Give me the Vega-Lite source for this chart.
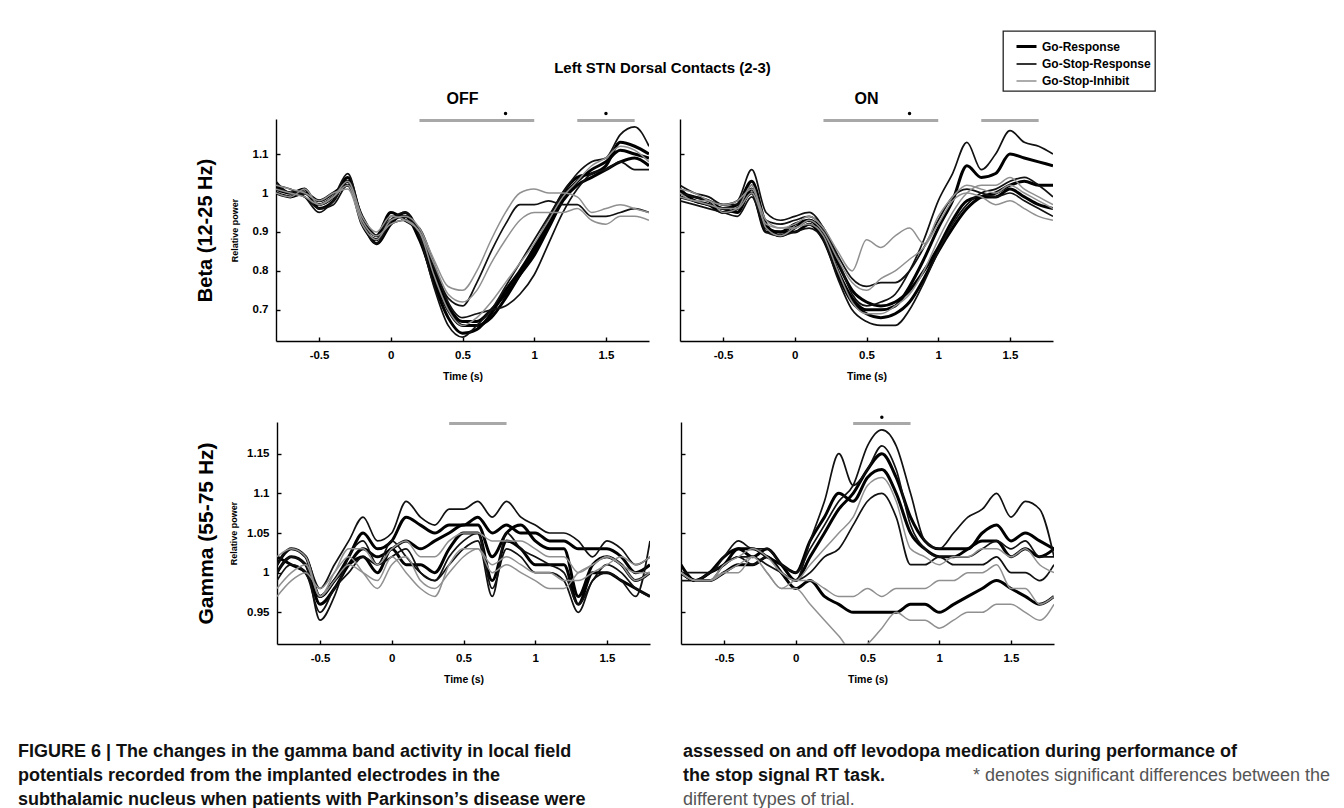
{
"$schema":"https://vega.github.io/schema/vega-lite/v6.json",
"background":"#ffffff",
"padding":{"left":18,"top":30,"right":0,"bottom":0},
"spacing":33,
"datasets":{
"bo":[
{"c":"R","l":1,"x":-0.8,"y":1.02},{"c":"R","l":1,"x":-0.7,"y":1.00},{"c":"R","l":1,"x":-0.6,"y":1.00},{"c":"R","l":1,"x":-0.5,"y":0.97},{"c":"R","l":1,"x":-0.4,"y":0.99},{"c":"R","l":1,"x":-0.3,"y":1.03},{"c":"R","l":1,"x":-0.2,"y":0.92},{"c":"R","l":1,"x":-0.1,"y":0.88},{"c":"R","l":1,"x":0,"y":0.93},{"c":"R","l":1,"x":0.1,"y":0.94},{"c":"R","l":1,"x":0.2,"y":0.88},{"c":"R","l":1,"x":0.3,"y":0.78},{"c":"R","l":1,"x":0.4,"y":0.70},{"c":"R","l":1,"x":0.5,"y":0.66},{"c":"R","l":1,"x":0.6,"y":0.66},{"c":"R","l":1,"x":0.7,"y":0.68},{"c":"R","l":1,"x":0.8,"y":0.73},{"c":"R","l":1,"x":0.9,"y":0.79},{"c":"R","l":1,"x":1,"y":0.85},{"c":"R","l":1,"x":1.1,"y":0.92},{"c":"R","l":1,"x":1.2,"y":0.99},{"c":"R","l":1,"x":1.3,"y":1.03},{"c":"R","l":1,"x":1.4,"y":1.06},{"c":"R","l":1,"x":1.5,"y":1.08},{"c":"R","l":1,"x":1.6,"y":1.11},{"c":"R","l":1,"x":1.7,"y":1.10},{"c":"R","l":1,"x":1.8,"y":1.09},
{"c":"R","l":2,"x":-0.8,"y":1.01},{"c":"R","l":2,"x":-0.7,"y":1.00},{"c":"R","l":2,"x":-0.6,"y":1.01},{"c":"R","l":2,"x":-0.5,"y":0.96},{"c":"R","l":2,"x":-0.4,"y":0.98},{"c":"R","l":2,"x":-0.3,"y":1.04},{"c":"R","l":2,"x":-0.2,"y":0.93},{"c":"R","l":2,"x":-0.1,"y":0.87},{"c":"R","l":2,"x":0,"y":0.92},{"c":"R","l":2,"x":0.1,"y":0.95},{"c":"R","l":2,"x":0.2,"y":0.89},{"c":"R","l":2,"x":0.3,"y":0.77},{"c":"R","l":2,"x":0.4,"y":0.68},{"c":"R","l":2,"x":0.5,"y":0.64},{"c":"R","l":2,"x":0.6,"y":0.65},{"c":"R","l":2,"x":0.7,"y":0.69},{"c":"R","l":2,"x":0.8,"y":0.75},{"c":"R","l":2,"x":0.9,"y":0.80},{"c":"R","l":2,"x":1,"y":0.86},{"c":"R","l":2,"x":1.1,"y":0.93},{"c":"R","l":2,"x":1.2,"y":1.00},{"c":"R","l":2,"x":1.3,"y":1.04},{"c":"R","l":2,"x":1.4,"y":1.05},{"c":"R","l":2,"x":1.5,"y":1.07},{"c":"R","l":2,"x":1.6,"y":1.13},{"c":"R","l":2,"x":1.7,"y":1.12},{"c":"R","l":2,"x":1.8,"y":1.10},
{"c":"R","l":3,"x":-0.8,"y":1.00},{"c":"R","l":3,"x":-0.7,"y":0.99},{"c":"R","l":3,"x":-0.6,"y":1.00},{"c":"R","l":3,"x":-0.5,"y":0.98},{"c":"R","l":3,"x":-0.4,"y":1.00},{"c":"R","l":3,"x":-0.3,"y":1.02},{"c":"R","l":3,"x":-0.2,"y":0.94},{"c":"R","l":3,"x":-0.1,"y":0.89},{"c":"R","l":3,"x":0,"y":0.95},{"c":"R","l":3,"x":0.1,"y":0.93},{"c":"R","l":3,"x":0.2,"y":0.90},{"c":"R","l":3,"x":0.3,"y":0.80},{"c":"R","l":3,"x":0.4,"y":0.71},{"c":"R","l":3,"x":0.5,"y":0.67},{"c":"R","l":3,"x":0.6,"y":0.67},{"c":"R","l":3,"x":0.7,"y":0.70},{"c":"R","l":3,"x":0.8,"y":0.74},{"c":"R","l":3,"x":0.9,"y":0.79},{"c":"R","l":3,"x":1,"y":0.84},{"c":"R","l":3,"x":1.1,"y":0.91},{"c":"R","l":3,"x":1.2,"y":0.98},{"c":"R","l":3,"x":1.3,"y":1.02},{"c":"R","l":3,"x":1.4,"y":1.04},{"c":"R","l":3,"x":1.5,"y":1.06},{"c":"R","l":3,"x":1.6,"y":1.08},{"c":"R","l":3,"x":1.7,"y":1.09},{"c":"R","l":3,"x":1.8,"y":1.07},
{"c":"S","l":4,"x":-0.8,"y":1.02},{"c":"S","l":4,"x":-0.7,"y":1.01},{"c":"S","l":4,"x":-0.6,"y":0.99},{"c":"S","l":4,"x":-0.5,"y":0.95},{"c":"S","l":4,"x":-0.4,"y":0.98},{"c":"S","l":4,"x":-0.3,"y":1.03},{"c":"S","l":4,"x":-0.2,"y":0.92},{"c":"S","l":4,"x":-0.1,"y":0.88},{"c":"S","l":4,"x":0,"y":0.94},{"c":"S","l":4,"x":0.1,"y":0.94},{"c":"S","l":4,"x":0.2,"y":0.90},{"c":"S","l":4,"x":0.3,"y":0.81},{"c":"S","l":4,"x":0.4,"y":0.73},{"c":"S","l":4,"x":0.5,"y":0.71},{"c":"S","l":4,"x":0.6,"y":0.77},{"c":"S","l":4,"x":0.7,"y":0.85},{"c":"S","l":4,"x":0.8,"y":0.92},{"c":"S","l":4,"x":0.9,"y":0.97},{"c":"S","l":4,"x":1,"y":0.97},{"c":"S","l":4,"x":1.1,"y":0.98},{"c":"S","l":4,"x":1.2,"y":0.97},{"c":"S","l":4,"x":1.3,"y":0.97},{"c":"S","l":4,"x":1.4,"y":0.94},{"c":"S","l":4,"x":1.5,"y":0.94},{"c":"S","l":4,"x":1.6,"y":0.95},{"c":"S","l":4,"x":1.7,"y":0.96},{"c":"S","l":4,"x":1.8,"y":0.95},
{"c":"S","l":5,"x":-0.8,"y":1.03},{"c":"S","l":5,"x":-0.7,"y":1.00},{"c":"S","l":5,"x":-0.6,"y":1.00},{"c":"S","l":5,"x":-0.5,"y":0.97},{"c":"S","l":5,"x":-0.4,"y":0.99},{"c":"S","l":5,"x":-0.3,"y":1.05},{"c":"S","l":5,"x":-0.2,"y":0.93},{"c":"S","l":5,"x":-0.1,"y":0.87},{"c":"S","l":5,"x":0,"y":0.93},{"c":"S","l":5,"x":0.1,"y":0.95},{"c":"S","l":5,"x":0.2,"y":0.89},{"c":"S","l":5,"x":0.3,"y":0.76},{"c":"S","l":5,"x":0.4,"y":0.66},{"c":"S","l":5,"x":0.5,"y":0.63},{"c":"S","l":5,"x":0.6,"y":0.66},{"c":"S","l":5,"x":0.7,"y":0.70},{"c":"S","l":5,"x":0.8,"y":0.76},{"c":"S","l":5,"x":0.9,"y":0.82},{"c":"S","l":5,"x":1,"y":0.88},{"c":"S","l":5,"x":1.1,"y":0.94},{"c":"S","l":5,"x":1.2,"y":1.00},{"c":"S","l":5,"x":1.3,"y":1.05},{"c":"S","l":5,"x":1.4,"y":1.08},{"c":"S","l":5,"x":1.5,"y":1.09},{"c":"S","l":5,"x":1.6,"y":1.15},{"c":"S","l":5,"x":1.7,"y":1.17},{"c":"S","l":5,"x":1.8,"y":1.12},
{"c":"S","l":6,"x":-0.8,"y":1.01},{"c":"S","l":6,"x":-0.7,"y":1.00},{"c":"S","l":6,"x":-0.6,"y":0.99},{"c":"S","l":6,"x":-0.5,"y":0.96},{"c":"S","l":6,"x":-0.4,"y":0.97},{"c":"S","l":6,"x":-0.3,"y":1.02},{"c":"S","l":6,"x":-0.2,"y":0.93},{"c":"S","l":6,"x":-0.1,"y":0.89},{"c":"S","l":6,"x":0,"y":0.92},{"c":"S","l":6,"x":0.1,"y":0.93},{"c":"S","l":6,"x":0.2,"y":0.91},{"c":"S","l":6,"x":0.3,"y":0.82},{"c":"S","l":6,"x":0.4,"y":0.72},{"c":"S","l":6,"x":0.5,"y":0.68},{"c":"S","l":6,"x":0.6,"y":0.69},{"c":"S","l":6,"x":0.7,"y":0.70},{"c":"S","l":6,"x":0.8,"y":0.71},{"c":"S","l":6,"x":0.9,"y":0.74},{"c":"S","l":6,"x":1,"y":0.79},{"c":"S","l":6,"x":1.1,"y":0.87},{"c":"S","l":6,"x":1.2,"y":0.95},{"c":"S","l":6,"x":1.3,"y":1.01},{"c":"S","l":6,"x":1.4,"y":1.05},{"c":"S","l":6,"x":1.5,"y":1.06},{"c":"S","l":6,"x":1.6,"y":1.08},{"c":"S","l":6,"x":1.7,"y":1.06},{"c":"S","l":6,"x":1.8,"y":1.06},
{"c":"I","l":7,"x":-0.8,"y":1.02},{"c":"I","l":7,"x":-0.7,"y":1.01},{"c":"I","l":7,"x":-0.6,"y":1.00},{"c":"I","l":7,"x":-0.5,"y":0.98},{"c":"I","l":7,"x":-0.4,"y":1.00},{"c":"I","l":7,"x":-0.3,"y":1.01},{"c":"I","l":7,"x":-0.2,"y":0.92},{"c":"I","l":7,"x":-0.1,"y":0.88},{"c":"I","l":7,"x":0,"y":0.93},{"c":"I","l":7,"x":0.1,"y":0.94},{"c":"I","l":7,"x":0.2,"y":0.91},{"c":"I","l":7,"x":0.3,"y":0.83},{"c":"I","l":7,"x":0.4,"y":0.76},{"c":"I","l":7,"x":0.5,"y":0.75},{"c":"I","l":7,"x":0.6,"y":0.80},{"c":"I","l":7,"x":0.7,"y":0.88},{"c":"I","l":7,"x":0.8,"y":0.95},{"c":"I","l":7,"x":0.9,"y":1.00},{"c":"I","l":7,"x":1,"y":1.01},{"c":"I","l":7,"x":1.1,"y":1.00},{"c":"I","l":7,"x":1.2,"y":1.00},{"c":"I","l":7,"x":1.3,"y":0.99},{"c":"I","l":7,"x":1.4,"y":0.95},{"c":"I","l":7,"x":1.5,"y":0.96},{"c":"I","l":7,"x":1.6,"y":0.97},{"c":"I","l":7,"x":1.7,"y":0.96},{"c":"I","l":7,"x":1.8,"y":0.95},
{"c":"I","l":8,"x":-0.8,"y":1.01},{"c":"I","l":8,"x":-0.7,"y":1.00},{"c":"I","l":8,"x":-0.6,"y":0.99},{"c":"I","l":8,"x":-0.5,"y":0.97},{"c":"I","l":8,"x":-0.4,"y":0.99},{"c":"I","l":8,"x":-0.3,"y":1.02},{"c":"I","l":8,"x":-0.2,"y":0.93},{"c":"I","l":8,"x":-0.1,"y":0.89},{"c":"I","l":8,"x":0,"y":0.92},{"c":"I","l":8,"x":0.1,"y":0.93},{"c":"I","l":8,"x":0.2,"y":0.90},{"c":"I","l":8,"x":0.3,"y":0.82},{"c":"I","l":8,"x":0.4,"y":0.74},{"c":"I","l":8,"x":0.5,"y":0.72},{"c":"I","l":8,"x":0.6,"y":0.75},{"c":"I","l":8,"x":0.7,"y":0.82},{"c":"I","l":8,"x":0.8,"y":0.88},{"c":"I","l":8,"x":0.9,"y":0.93},{"c":"I","l":8,"x":1,"y":0.95},{"c":"I","l":8,"x":1.1,"y":0.95},{"c":"I","l":8,"x":1.2,"y":0.95},{"c":"I","l":8,"x":1.3,"y":0.96},{"c":"I","l":8,"x":1.4,"y":0.93},{"c":"I","l":8,"x":1.5,"y":0.92},{"c":"I","l":8,"x":1.6,"y":0.94},{"c":"I","l":8,"x":1.7,"y":0.94},{"c":"I","l":8,"x":1.8,"y":0.93},
{"c":"I","l":9,"x":-0.8,"y":1.00},{"c":"I","l":9,"x":-0.7,"y":0.99},{"c":"I","l":9,"x":-0.6,"y":1.01},{"c":"I","l":9,"x":-0.5,"y":0.97},{"c":"I","l":9,"x":-0.4,"y":0.99},{"c":"I","l":9,"x":-0.3,"y":1.03},{"c":"I","l":9,"x":-0.2,"y":0.94},{"c":"I","l":9,"x":-0.1,"y":0.90},{"c":"I","l":9,"x":0,"y":0.94},{"c":"I","l":9,"x":0.1,"y":0.93},{"c":"I","l":9,"x":0.2,"y":0.90},{"c":"I","l":9,"x":0.3,"y":0.79},{"c":"I","l":9,"x":0.4,"y":0.70},{"c":"I","l":9,"x":0.5,"y":0.66},{"c":"I","l":9,"x":0.6,"y":0.68},{"c":"I","l":9,"x":0.7,"y":0.72},{"c":"I","l":9,"x":0.8,"y":0.77},{"c":"I","l":9,"x":0.9,"y":0.82},{"c":"I","l":9,"x":1,"y":0.87},{"c":"I","l":9,"x":1.1,"y":0.93},{"c":"I","l":9,"x":1.2,"y":0.99},{"c":"I","l":9,"x":1.3,"y":1.03},{"c":"I","l":9,"x":1.4,"y":1.07},{"c":"I","l":9,"x":1.5,"y":1.09},{"c":"I","l":9,"x":1.6,"y":1.12},{"c":"I","l":9,"x":1.7,"y":1.11},{"c":"I","l":9,"x":1.8,"y":1.08}
],
"bn":[
{"c":"R","l":1,"x":-0.8,"y":1.00},{"c":"R","l":1,"x":-0.7,"y":0.99},{"c":"R","l":1,"x":-0.6,"y":0.98},{"c":"R","l":1,"x":-0.5,"y":0.96},{"c":"R","l":1,"x":-0.4,"y":0.97},{"c":"R","l":1,"x":-0.3,"y":1.03},{"c":"R","l":1,"x":-0.2,"y":0.92},{"c":"R","l":1,"x":-0.1,"y":0.89},{"c":"R","l":1,"x":0,"y":0.91},{"c":"R","l":1,"x":0.1,"y":0.93},{"c":"R","l":1,"x":0.2,"y":0.89},{"c":"R","l":1,"x":0.3,"y":0.80},{"c":"R","l":1,"x":0.4,"y":0.73},{"c":"R","l":1,"x":0.5,"y":0.70},{"c":"R","l":1,"x":0.6,"y":0.70},{"c":"R","l":1,"x":0.7,"y":0.71},{"c":"R","l":1,"x":0.8,"y":0.76},{"c":"R","l":1,"x":0.9,"y":0.83},{"c":"R","l":1,"x":1,"y":0.91},{"c":"R","l":1,"x":1.1,"y":0.98},{"c":"R","l":1,"x":1.2,"y":1.07},{"c":"R","l":1,"x":1.3,"y":1.04},{"c":"R","l":1,"x":1.4,"y":1.05},{"c":"R","l":1,"x":1.5,"y":1.10},{"c":"R","l":1,"x":1.6,"y":1.09},{"c":"R","l":1,"x":1.7,"y":1.08},{"c":"R","l":1,"x":1.8,"y":1.07},
{"c":"R","l":2,"x":-0.8,"y":1.01},{"c":"R","l":2,"x":-0.7,"y":0.98},{"c":"R","l":2,"x":-0.6,"y":0.97},{"c":"R","l":2,"x":-0.5,"y":0.95},{"c":"R","l":2,"x":-0.4,"y":0.96},{"c":"R","l":2,"x":-0.3,"y":1.00},{"c":"R","l":2,"x":-0.2,"y":0.90},{"c":"R","l":2,"x":-0.1,"y":0.90},{"c":"R","l":2,"x":0,"y":0.90},{"c":"R","l":2,"x":0.1,"y":0.92},{"c":"R","l":2,"x":0.2,"y":0.88},{"c":"R","l":2,"x":0.3,"y":0.79},{"c":"R","l":2,"x":0.4,"y":0.72},{"c":"R","l":2,"x":0.5,"y":0.69},{"c":"R","l":2,"x":0.6,"y":0.68},{"c":"R","l":2,"x":0.7,"y":0.69},{"c":"R","l":2,"x":0.8,"y":0.72},{"c":"R","l":2,"x":0.9,"y":0.78},{"c":"R","l":2,"x":1,"y":0.85},{"c":"R","l":2,"x":1.1,"y":0.91},{"c":"R","l":2,"x":1.2,"y":0.96},{"c":"R","l":2,"x":1.3,"y":0.99},{"c":"R","l":2,"x":1.4,"y":1.00},{"c":"R","l":2,"x":1.5,"y":1.02},{"c":"R","l":2,"x":1.6,"y":1.03},{"c":"R","l":2,"x":1.7,"y":1.02},{"c":"R","l":2,"x":1.8,"y":1.02},
{"c":"R","l":3,"x":-0.8,"y":0.99},{"c":"R","l":3,"x":-0.7,"y":0.98},{"c":"R","l":3,"x":-0.6,"y":0.97},{"c":"R","l":3,"x":-0.5,"y":0.96},{"c":"R","l":3,"x":-0.4,"y":0.95},{"c":"R","l":3,"x":-0.3,"y":1.01},{"c":"R","l":3,"x":-0.2,"y":0.91},{"c":"R","l":3,"x":-0.1,"y":0.90},{"c":"R","l":3,"x":0,"y":0.92},{"c":"R","l":3,"x":0.1,"y":0.93},{"c":"R","l":3,"x":0.2,"y":0.90},{"c":"R","l":3,"x":0.3,"y":0.82},{"c":"R","l":3,"x":0.4,"y":0.75},{"c":"R","l":3,"x":0.5,"y":0.72},{"c":"R","l":3,"x":0.6,"y":0.71},{"c":"R","l":3,"x":0.7,"y":0.72},{"c":"R","l":3,"x":0.8,"y":0.75},{"c":"R","l":3,"x":0.9,"y":0.80},{"c":"R","l":3,"x":1,"y":0.86},{"c":"R","l":3,"x":1.1,"y":0.93},{"c":"R","l":3,"x":1.2,"y":0.98},{"c":"R","l":3,"x":1.3,"y":0.99},{"c":"R","l":3,"x":1.4,"y":0.99},{"c":"R","l":3,"x":1.5,"y":1.01},{"c":"R","l":3,"x":1.6,"y":0.99},{"c":"R","l":3,"x":1.7,"y":0.97},{"c":"R","l":3,"x":1.8,"y":0.96},
{"c":"S","l":4,"x":-0.8,"y":1.00},{"c":"S","l":4,"x":-0.7,"y":0.99},{"c":"S","l":4,"x":-0.6,"y":0.98},{"c":"S","l":4,"x":-0.5,"y":0.97},{"c":"S","l":4,"x":-0.4,"y":0.98},{"c":"S","l":4,"x":-0.3,"y":1.06},{"c":"S","l":4,"x":-0.2,"y":0.95},{"c":"S","l":4,"x":-0.1,"y":0.93},{"c":"S","l":4,"x":0,"y":0.94},{"c":"S","l":4,"x":0.1,"y":0.95},{"c":"S","l":4,"x":0.2,"y":0.91},{"c":"S","l":4,"x":0.3,"y":0.83},{"c":"S","l":4,"x":0.4,"y":0.74},{"c":"S","l":4,"x":0.5,"y":0.71},{"c":"S","l":4,"x":0.6,"y":0.72},{"c":"S","l":4,"x":0.7,"y":0.74},{"c":"S","l":4,"x":0.8,"y":0.80},{"c":"S","l":4,"x":0.9,"y":0.88},{"c":"S","l":4,"x":1,"y":0.98},{"c":"S","l":4,"x":1.1,"y":1.05},{"c":"S","l":4,"x":1.2,"y":1.13},{"c":"S","l":4,"x":1.3,"y":1.06},{"c":"S","l":4,"x":1.4,"y":1.10},{"c":"S","l":4,"x":1.5,"y":1.16},{"c":"S","l":4,"x":1.6,"y":1.13},{"c":"S","l":4,"x":1.7,"y":1.12},{"c":"S","l":4,"x":1.8,"y":1.10},
{"c":"S","l":5,"x":-0.8,"y":1.02},{"c":"S","l":5,"x":-0.7,"y":1.00},{"c":"S","l":5,"x":-0.6,"y":0.99},{"c":"S","l":5,"x":-0.5,"y":0.97},{"c":"S","l":5,"x":-0.4,"y":0.97},{"c":"S","l":5,"x":-0.3,"y":1.02},{"c":"S","l":5,"x":-0.2,"y":0.93},{"c":"S","l":5,"x":-0.1,"y":0.92},{"c":"S","l":5,"x":0,"y":0.93},{"c":"S","l":5,"x":0.1,"y":0.94},{"c":"S","l":5,"x":0.2,"y":0.91},{"c":"S","l":5,"x":0.3,"y":0.84},{"c":"S","l":5,"x":0.4,"y":0.78},{"c":"S","l":5,"x":0.5,"y":0.76},{"c":"S","l":5,"x":0.6,"y":0.77},{"c":"S","l":5,"x":0.7,"y":0.77},{"c":"S","l":5,"x":0.8,"y":0.80},{"c":"S","l":5,"x":0.9,"y":0.86},{"c":"S","l":5,"x":1,"y":0.93},{"c":"S","l":5,"x":1.1,"y":0.99},{"c":"S","l":5,"x":1.2,"y":1.01},{"c":"S","l":5,"x":1.3,"y":1.00},{"c":"S","l":5,"x":1.4,"y":0.99},{"c":"S","l":5,"x":1.5,"y":1.00},{"c":"S","l":5,"x":1.6,"y":0.98},{"c":"S","l":5,"x":1.7,"y":0.96},{"c":"S","l":5,"x":1.8,"y":0.94},
{"c":"S","l":6,"x":-0.8,"y":0.98},{"c":"S","l":6,"x":-0.7,"y":0.97},{"c":"S","l":6,"x":-0.6,"y":0.96},{"c":"S","l":6,"x":-0.5,"y":0.95},{"c":"S","l":6,"x":-0.4,"y":0.94},{"c":"S","l":6,"x":-0.3,"y":0.99},{"c":"S","l":6,"x":-0.2,"y":0.90},{"c":"S","l":6,"x":-0.1,"y":0.89},{"c":"S","l":6,"x":0,"y":0.90},{"c":"S","l":6,"x":0.1,"y":0.91},{"c":"S","l":6,"x":0.2,"y":0.88},{"c":"S","l":6,"x":0.3,"y":0.78},{"c":"S","l":6,"x":0.4,"y":0.70},{"c":"S","l":6,"x":0.5,"y":0.67},{"c":"S","l":6,"x":0.6,"y":0.66},{"c":"S","l":6,"x":0.7,"y":0.66},{"c":"S","l":6,"x":0.8,"y":0.70},{"c":"S","l":6,"x":0.9,"y":0.77},{"c":"S","l":6,"x":1,"y":0.85},{"c":"S","l":6,"x":1.1,"y":0.92},{"c":"S","l":6,"x":1.2,"y":0.97},{"c":"S","l":6,"x":1.3,"y":1.00},{"c":"S","l":6,"x":1.4,"y":1.01},{"c":"S","l":6,"x":1.5,"y":1.03},{"c":"S","l":6,"x":1.6,"y":1.04},{"c":"S","l":6,"x":1.7,"y":1.02},{"c":"S","l":6,"x":1.8,"y":0.99},
{"c":"I","l":7,"x":-0.8,"y":1.01},{"c":"I","l":7,"x":-0.7,"y":1.00},{"c":"I","l":7,"x":-0.6,"y":0.98},{"c":"I","l":7,"x":-0.5,"y":0.97},{"c":"I","l":7,"x":-0.4,"y":0.98},{"c":"I","l":7,"x":-0.3,"y":1.01},{"c":"I","l":7,"x":-0.2,"y":0.93},{"c":"I","l":7,"x":-0.1,"y":0.91},{"c":"I","l":7,"x":0,"y":0.92},{"c":"I","l":7,"x":0.1,"y":0.94},{"c":"I","l":7,"x":0.2,"y":0.91},{"c":"I","l":7,"x":0.3,"y":0.85},{"c":"I","l":7,"x":0.4,"y":0.80},{"c":"I","l":7,"x":0.5,"y":0.88},{"c":"I","l":7,"x":0.6,"y":0.86},{"c":"I","l":7,"x":0.7,"y":0.89},{"c":"I","l":7,"x":0.8,"y":0.91},{"c":"I","l":7,"x":0.9,"y":0.87},{"c":"I","l":7,"x":1,"y":0.94},{"c":"I","l":7,"x":1.1,"y":0.99},{"c":"I","l":7,"x":1.2,"y":1.02},{"c":"I","l":7,"x":1.3,"y":1.01},{"c":"I","l":7,"x":1.4,"y":1.00},{"c":"I","l":7,"x":1.5,"y":1.02},{"c":"I","l":7,"x":1.6,"y":1.00},{"c":"I","l":7,"x":1.7,"y":0.98},{"c":"I","l":7,"x":1.8,"y":0.96},
{"c":"I","l":8,"x":-0.8,"y":0.99},{"c":"I","l":8,"x":-0.7,"y":0.98},{"c":"I","l":8,"x":-0.6,"y":0.97},{"c":"I","l":8,"x":-0.5,"y":0.96},{"c":"I","l":8,"x":-0.4,"y":0.96},{"c":"I","l":8,"x":-0.3,"y":1.00},{"c":"I","l":8,"x":-0.2,"y":0.92},{"c":"I","l":8,"x":-0.1,"y":0.91},{"c":"I","l":8,"x":0,"y":0.91},{"c":"I","l":8,"x":0.1,"y":0.93},{"c":"I","l":8,"x":0.2,"y":0.90},{"c":"I","l":8,"x":0.3,"y":0.83},{"c":"I","l":8,"x":0.4,"y":0.77},{"c":"I","l":8,"x":0.5,"y":0.75},{"c":"I","l":8,"x":0.6,"y":0.78},{"c":"I","l":8,"x":0.7,"y":0.80},{"c":"I","l":8,"x":0.8,"y":0.83},{"c":"I","l":8,"x":0.9,"y":0.86},{"c":"I","l":8,"x":1,"y":0.92},{"c":"I","l":8,"x":1.1,"y":0.98},{"c":"I","l":8,"x":1.2,"y":1.00},{"c":"I","l":8,"x":1.3,"y":0.99},{"c":"I","l":8,"x":1.4,"y":0.97},{"c":"I","l":8,"x":1.5,"y":0.98},{"c":"I","l":8,"x":1.6,"y":0.96},{"c":"I","l":8,"x":1.7,"y":0.94},{"c":"I","l":8,"x":1.8,"y":0.93},
{"c":"I","l":9,"x":-0.8,"y":1.00},{"c":"I","l":9,"x":-0.7,"y":0.98},{"c":"I","l":9,"x":-0.6,"y":0.98},{"c":"I","l":9,"x":-0.5,"y":0.95},{"c":"I","l":9,"x":-0.4,"y":0.96},{"c":"I","l":9,"x":-0.3,"y":1.02},{"c":"I","l":9,"x":-0.2,"y":0.91},{"c":"I","l":9,"x":-0.1,"y":0.89},{"c":"I","l":9,"x":0,"y":0.91},{"c":"I","l":9,"x":0.1,"y":0.92},{"c":"I","l":9,"x":0.2,"y":0.89},{"c":"I","l":9,"x":0.3,"y":0.80},{"c":"I","l":9,"x":0.4,"y":0.72},{"c":"I","l":9,"x":0.5,"y":0.69},{"c":"I","l":9,"x":0.6,"y":0.69},{"c":"I","l":9,"x":0.7,"y":0.71},{"c":"I","l":9,"x":0.8,"y":0.74},{"c":"I","l":9,"x":0.9,"y":0.80},{"c":"I","l":9,"x":1,"y":0.88},{"c":"I","l":9,"x":1.1,"y":0.95},{"c":"I","l":9,"x":1.2,"y":1.00},{"c":"I","l":9,"x":1.3,"y":1.02},{"c":"I","l":9,"x":1.4,"y":1.02},{"c":"I","l":9,"x":1.5,"y":1.04},{"c":"I","l":9,"x":1.6,"y":1.01},{"c":"I","l":9,"x":1.7,"y":0.99},{"c":"I","l":9,"x":1.8,"y":0.97}
],
"go":[
{"c":"R","l":1,"x":-0.8,"y":1.01},{"c":"R","l":1,"x":-0.7,"y":1.03},{"c":"R","l":1,"x":-0.6,"y":1.02},{"c":"R","l":1,"x":-0.5,"y":0.97},{"c":"R","l":1,"x":-0.4,"y":0.99},{"c":"R","l":1,"x":-0.3,"y":1.02},{"c":"R","l":1,"x":-0.2,"y":1.05},{"c":"R","l":1,"x":-0.1,"y":1.03},{"c":"R","l":1,"x":0,"y":1.04},{"c":"R","l":1,"x":0.1,"y":1.07},{"c":"R","l":1,"x":0.2,"y":1.06},{"c":"R","l":1,"x":0.3,"y":1.05},{"c":"R","l":1,"x":0.4,"y":1.06},{"c":"R","l":1,"x":0.5,"y":1.06},{"c":"R","l":1,"x":0.6,"y":1.07},{"c":"R","l":1,"x":0.7,"y":1.05},{"c":"R","l":1,"x":0.8,"y":1.06},{"c":"R","l":1,"x":0.9,"y":1.05},{"c":"R","l":1,"x":1,"y":1.05},{"c":"R","l":1,"x":1.1,"y":1.04},{"c":"R","l":1,"x":1.2,"y":1.04},{"c":"R","l":1,"x":1.3,"y":1.03},{"c":"R","l":1,"x":1.4,"y":1.03},{"c":"R","l":1,"x":1.5,"y":1.03},{"c":"R","l":1,"x":1.6,"y":1.02},{"c":"R","l":1,"x":1.7,"y":1.00},{"c":"R","l":1,"x":1.8,"y":1.01},
{"c":"R","l":2,"x":-0.8,"y":1.00},{"c":"R","l":2,"x":-0.7,"y":1.02},{"c":"R","l":2,"x":-0.6,"y":1.01},{"c":"R","l":2,"x":-0.5,"y":0.96},{"c":"R","l":2,"x":-0.4,"y":0.98},{"c":"R","l":2,"x":-0.3,"y":1.01},{"c":"R","l":2,"x":-0.2,"y":1.03},{"c":"R","l":2,"x":-0.1,"y":1.02},{"c":"R","l":2,"x":0,"y":1.03},{"c":"R","l":2,"x":0.1,"y":1.04},{"c":"R","l":2,"x":0.2,"y":1.03},{"c":"R","l":2,"x":0.3,"y":1.04},{"c":"R","l":2,"x":0.4,"y":1.05},{"c":"R","l":2,"x":0.5,"y":1.06},{"c":"R","l":2,"x":0.6,"y":1.06},{"c":"R","l":2,"x":0.7,"y":1.02},{"c":"R","l":2,"x":0.8,"y":1.05},{"c":"R","l":2,"x":0.9,"y":1.06},{"c":"R","l":2,"x":1,"y":1.04},{"c":"R","l":2,"x":1.1,"y":1.03},{"c":"R","l":2,"x":1.2,"y":1.03},{"c":"R","l":2,"x":1.3,"y":0.97},{"c":"R","l":2,"x":1.4,"y":1.01},{"c":"R","l":2,"x":1.5,"y":1.02},{"c":"R","l":2,"x":1.6,"y":1.01},{"c":"R","l":2,"x":1.7,"y":0.99},{"c":"R","l":2,"x":1.8,"y":1.00},
{"c":"R","l":3,"x":-0.8,"y":1.02},{"c":"R","l":3,"x":-0.7,"y":1.01},{"c":"R","l":3,"x":-0.6,"y":1.00},{"c":"R","l":3,"x":-0.5,"y":0.97},{"c":"R","l":3,"x":-0.4,"y":0.99},{"c":"R","l":3,"x":-0.3,"y":1.01},{"c":"R","l":3,"x":-0.2,"y":1.02},{"c":"R","l":3,"x":-0.1,"y":1.00},{"c":"R","l":3,"x":0,"y":1.03},{"c":"R","l":3,"x":0.1,"y":1.01},{"c":"R","l":3,"x":0.2,"y":1.01},{"c":"R","l":3,"x":0.3,"y":1.00},{"c":"R","l":3,"x":0.4,"y":1.03},{"c":"R","l":3,"x":0.5,"y":1.05},{"c":"R","l":3,"x":0.6,"y":1.05},{"c":"R","l":3,"x":0.7,"y":0.99},{"c":"R","l":3,"x":0.8,"y":1.04},{"c":"R","l":3,"x":0.9,"y":1.03},{"c":"R","l":3,"x":1,"y":1.01},{"c":"R","l":3,"x":1.1,"y":1.01},{"c":"R","l":3,"x":1.2,"y":1.01},{"c":"R","l":3,"x":1.3,"y":0.96},{"c":"R","l":3,"x":1.4,"y":1.00},{"c":"R","l":3,"x":1.5,"y":1.00},{"c":"R","l":3,"x":1.6,"y":0.99},{"c":"R","l":3,"x":1.7,"y":0.98},{"c":"R","l":3,"x":1.8,"y":0.97},
{"c":"S","l":4,"x":-0.8,"y":1.01},{"c":"S","l":4,"x":-0.7,"y":1.03},{"c":"S","l":4,"x":-0.6,"y":1.02},{"c":"S","l":4,"x":-0.5,"y":0.98},{"c":"S","l":4,"x":-0.4,"y":1.01},{"c":"S","l":4,"x":-0.3,"y":1.04},{"c":"S","l":4,"x":-0.2,"y":1.07},{"c":"S","l":4,"x":-0.1,"y":1.04},{"c":"S","l":4,"x":0,"y":1.05},{"c":"S","l":4,"x":0.1,"y":1.09},{"c":"S","l":4,"x":0.2,"y":1.07},{"c":"S","l":4,"x":0.3,"y":1.06},{"c":"S","l":4,"x":0.4,"y":1.08},{"c":"S","l":4,"x":0.5,"y":1.08},{"c":"S","l":4,"x":0.6,"y":1.09},{"c":"S","l":4,"x":0.7,"y":1.07},{"c":"S","l":4,"x":0.8,"y":1.09},{"c":"S","l":4,"x":0.9,"y":1.07},{"c":"S","l":4,"x":1,"y":1.06},{"c":"S","l":4,"x":1.1,"y":1.05},{"c":"S","l":4,"x":1.2,"y":1.05},{"c":"S","l":4,"x":1.3,"y":1.04},{"c":"S","l":4,"x":1.4,"y":1.02},{"c":"S","l":4,"x":1.5,"y":1.04},{"c":"S","l":4,"x":1.6,"y":1.03},{"c":"S","l":4,"x":1.7,"y":1.01},{"c":"S","l":4,"x":1.8,"y":1.02},
{"c":"S","l":5,"x":-0.8,"y":0.99},{"c":"S","l":5,"x":-0.7,"y":1.01},{"c":"S","l":5,"x":-0.6,"y":1.00},{"c":"S","l":5,"x":-0.5,"y":0.95},{"c":"S","l":5,"x":-0.4,"y":0.98},{"c":"S","l":5,"x":-0.3,"y":1.00},{"c":"S","l":5,"x":-0.2,"y":1.02},{"c":"S","l":5,"x":-0.1,"y":1.01},{"c":"S","l":5,"x":0,"y":1.02},{"c":"S","l":5,"x":0.1,"y":1.03},{"c":"S","l":5,"x":0.2,"y":1.00},{"c":"S","l":5,"x":0.3,"y":0.99},{"c":"S","l":5,"x":0.4,"y":1.02},{"c":"S","l":5,"x":0.5,"y":1.04},{"c":"S","l":5,"x":0.6,"y":1.05},{"c":"S","l":5,"x":0.7,"y":0.98},{"c":"S","l":5,"x":0.8,"y":1.03},{"c":"S","l":5,"x":0.9,"y":1.02},{"c":"S","l":5,"x":1,"y":1.00},{"c":"S","l":5,"x":1.1,"y":1.00},{"c":"S","l":5,"x":1.2,"y":0.99},{"c":"S","l":5,"x":1.3,"y":0.95},{"c":"S","l":5,"x":1.4,"y":0.99},{"c":"S","l":5,"x":1.5,"y":1.00},{"c":"S","l":5,"x":1.6,"y":0.99},{"c":"S","l":5,"x":1.7,"y":0.97},{"c":"S","l":5,"x":1.8,"y":1.04},
{"c":"S","l":6,"x":-0.8,"y":1.00},{"c":"S","l":6,"x":-0.7,"y":1.02},{"c":"S","l":6,"x":-0.6,"y":1.01},{"c":"S","l":6,"x":-0.5,"y":0.94},{"c":"S","l":6,"x":-0.4,"y":0.97},{"c":"S","l":6,"x":-0.3,"y":1.02},{"c":"S","l":6,"x":-0.2,"y":1.04},{"c":"S","l":6,"x":-0.1,"y":1.01},{"c":"S","l":6,"x":0,"y":1.04},{"c":"S","l":6,"x":0.1,"y":1.02},{"c":"S","l":6,"x":0.2,"y":1.00},{"c":"S","l":6,"x":0.3,"y":0.99},{"c":"S","l":6,"x":0.4,"y":1.01},{"c":"S","l":6,"x":0.5,"y":1.03},{"c":"S","l":6,"x":0.6,"y":1.04},{"c":"S","l":6,"x":0.7,"y":0.97},{"c":"S","l":6,"x":0.8,"y":1.05},{"c":"S","l":6,"x":0.9,"y":1.03},{"c":"S","l":6,"x":1,"y":1.02},{"c":"S","l":6,"x":1.1,"y":1.01},{"c":"S","l":6,"x":1.2,"y":1.00},{"c":"S","l":6,"x":1.3,"y":0.96},{"c":"S","l":6,"x":1.4,"y":0.99},{"c":"S","l":6,"x":1.5,"y":1.01},{"c":"S","l":6,"x":1.6,"y":1.00},{"c":"S","l":6,"x":1.7,"y":0.98},{"c":"S","l":6,"x":1.8,"y":0.97},
{"c":"I","l":7,"x":-0.8,"y":0.98},{"c":"I","l":7,"x":-0.7,"y":1.00},{"c":"I","l":7,"x":-0.6,"y":1.01},{"c":"I","l":7,"x":-0.5,"y":0.97},{"c":"I","l":7,"x":-0.4,"y":0.99},{"c":"I","l":7,"x":-0.3,"y":1.01},{"c":"I","l":7,"x":-0.2,"y":1.00},{"c":"I","l":7,"x":-0.1,"y":0.99},{"c":"I","l":7,"x":0,"y":1.02},{"c":"I","l":7,"x":0.1,"y":1.00},{"c":"I","l":7,"x":0.2,"y":0.98},{"c":"I","l":7,"x":0.3,"y":0.97},{"c":"I","l":7,"x":0.4,"y":1.01},{"c":"I","l":7,"x":0.5,"y":1.03},{"c":"I","l":7,"x":0.6,"y":1.03},{"c":"I","l":7,"x":0.7,"y":1.01},{"c":"I","l":7,"x":0.8,"y":1.02},{"c":"I","l":7,"x":0.9,"y":1.01},{"c":"I","l":7,"x":1,"y":1.00},{"c":"I","l":7,"x":1.1,"y":1.00},{"c":"I","l":7,"x":1.2,"y":0.99},{"c":"I","l":7,"x":1.3,"y":0.99},{"c":"I","l":7,"x":1.4,"y":1.00},{"c":"I","l":7,"x":1.5,"y":1.01},{"c":"I","l":7,"x":1.6,"y":1.02},{"c":"I","l":7,"x":1.7,"y":1.01},{"c":"I","l":7,"x":1.8,"y":1.02},
{"c":"I","l":8,"x":-0.8,"y":0.97},{"c":"I","l":8,"x":-0.7,"y":0.99},{"c":"I","l":8,"x":-0.6,"y":1.00},{"c":"I","l":8,"x":-0.5,"y":0.98},{"c":"I","l":8,"x":-0.4,"y":1.00},{"c":"I","l":8,"x":-0.3,"y":1.02},{"c":"I","l":8,"x":-0.2,"y":1.00},{"c":"I","l":8,"x":-0.1,"y":0.98},{"c":"I","l":8,"x":0,"y":1.01},{"c":"I","l":8,"x":0.1,"y":1.02},{"c":"I","l":8,"x":0.2,"y":0.99},{"c":"I","l":8,"x":0.3,"y":0.98},{"c":"I","l":8,"x":0.4,"y":1.00},{"c":"I","l":8,"x":0.5,"y":1.02},{"c":"I","l":8,"x":0.6,"y":1.03},{"c":"I","l":8,"x":0.7,"y":1.00},{"c":"I","l":8,"x":0.8,"y":1.01},{"c":"I","l":8,"x":0.9,"y":1.00},{"c":"I","l":8,"x":1,"y":0.99},{"c":"I","l":8,"x":1.1,"y":0.98},{"c":"I","l":8,"x":1.2,"y":0.98},{"c":"I","l":8,"x":1.3,"y":1.00},{"c":"I","l":8,"x":1.4,"y":1.01},{"c":"I","l":8,"x":1.5,"y":1.02},{"c":"I","l":8,"x":1.6,"y":1.01},{"c":"I","l":8,"x":1.7,"y":1.00},{"c":"I","l":8,"x":1.8,"y":1.00},
{"c":"I","l":9,"x":-0.8,"y":1.02},{"c":"I","l":9,"x":-0.7,"y":1.03},{"c":"I","l":9,"x":-0.6,"y":1.02},{"c":"I","l":9,"x":-0.5,"y":0.97},{"c":"I","l":9,"x":-0.4,"y":1.00},{"c":"I","l":9,"x":-0.3,"y":1.03},{"c":"I","l":9,"x":-0.2,"y":1.03},{"c":"I","l":9,"x":-0.1,"y":1.01},{"c":"I","l":9,"x":0,"y":1.03},{"c":"I","l":9,"x":0.1,"y":1.04},{"c":"I","l":9,"x":0.2,"y":1.02},{"c":"I","l":9,"x":0.3,"y":1.02},{"c":"I","l":9,"x":0.4,"y":1.04},{"c":"I","l":9,"x":0.5,"y":1.05},{"c":"I","l":9,"x":0.6,"y":1.05},{"c":"I","l":9,"x":0.7,"y":1.04},{"c":"I","l":9,"x":0.8,"y":1.04},{"c":"I","l":9,"x":0.9,"y":1.04},{"c":"I","l":9,"x":1,"y":1.03},{"c":"I","l":9,"x":1.1,"y":1.02},{"c":"I","l":9,"x":1.2,"y":1.02},{"c":"I","l":9,"x":1.3,"y":1.00},{"c":"I","l":9,"x":1.4,"y":1.01},{"c":"I","l":9,"x":1.5,"y":1.02},{"c":"I","l":9,"x":1.6,"y":1.01},{"c":"I","l":9,"x":1.7,"y":0.99},{"c":"I","l":9,"x":1.8,"y":1.00}
],
"gn":[
{"c":"R","l":1,"x":-0.8,"y":1.00},{"c":"R","l":1,"x":-0.7,"y":0.99},{"c":"R","l":1,"x":-0.6,"y":1.00},{"c":"R","l":1,"x":-0.5,"y":1.01},{"c":"R","l":1,"x":-0.4,"y":1.03},{"c":"R","l":1,"x":-0.3,"y":1.02},{"c":"R","l":1,"x":-0.2,"y":1.03},{"c":"R","l":1,"x":-0.1,"y":1.01},{"c":"R","l":1,"x":0,"y":0.99},{"c":"R","l":1,"x":0.1,"y":1.02},{"c":"R","l":1,"x":0.2,"y":1.05},{"c":"R","l":1,"x":0.3,"y":1.08},{"c":"R","l":1,"x":0.4,"y":1.10},{"c":"R","l":1,"x":0.5,"y":1.13},{"c":"R","l":1,"x":0.6,"y":1.15},{"c":"R","l":1,"x":0.7,"y":1.12},{"c":"R","l":1,"x":0.8,"y":1.07},{"c":"R","l":1,"x":0.9,"y":1.04},{"c":"R","l":1,"x":1,"y":1.03},{"c":"R","l":1,"x":1.1,"y":1.03},{"c":"R","l":1,"x":1.2,"y":1.03},{"c":"R","l":1,"x":1.3,"y":1.05},{"c":"R","l":1,"x":1.4,"y":1.06},{"c":"R","l":1,"x":1.5,"y":1.04},{"c":"R","l":1,"x":1.6,"y":1.05},{"c":"R","l":1,"x":1.7,"y":1.04},{"c":"R","l":1,"x":1.8,"y":1.03},
{"c":"R","l":2,"x":-0.8,"y":1.01},{"c":"R","l":2,"x":-0.7,"y":0.99},{"c":"R","l":2,"x":-0.6,"y":1.00},{"c":"R","l":2,"x":-0.5,"y":1.02},{"c":"R","l":2,"x":-0.4,"y":1.03},{"c":"R","l":2,"x":-0.3,"y":1.03},{"c":"R","l":2,"x":-0.2,"y":1.02},{"c":"R","l":2,"x":-0.1,"y":1.01},{"c":"R","l":2,"x":0,"y":1.00},{"c":"R","l":2,"x":0.1,"y":1.04},{"c":"R","l":2,"x":0.2,"y":1.07},{"c":"R","l":2,"x":0.3,"y":1.10},{"c":"R","l":2,"x":0.4,"y":1.09},{"c":"R","l":2,"x":0.5,"y":1.12},{"c":"R","l":2,"x":0.6,"y":1.13},{"c":"R","l":2,"x":0.7,"y":1.10},{"c":"R","l":2,"x":0.8,"y":1.05},{"c":"R","l":2,"x":0.9,"y":1.03},{"c":"R","l":2,"x":1,"y":1.02},{"c":"R","l":2,"x":1.1,"y":1.02},{"c":"R","l":2,"x":1.2,"y":1.03},{"c":"R","l":2,"x":1.3,"y":1.04},{"c":"R","l":2,"x":1.4,"y":1.04},{"c":"R","l":2,"x":1.5,"y":1.02},{"c":"R","l":2,"x":1.6,"y":1.03},{"c":"R","l":2,"x":1.7,"y":1.02},{"c":"R","l":2,"x":1.8,"y":1.03},
{"c":"R","l":3,"x":-0.8,"y":1.00},{"c":"R","l":3,"x":-0.7,"y":0.99},{"c":"R","l":3,"x":-0.6,"y":0.99},{"c":"R","l":3,"x":-0.5,"y":1.00},{"c":"R","l":3,"x":-0.4,"y":1.01},{"c":"R","l":3,"x":-0.3,"y":1.01},{"c":"R","l":3,"x":-0.2,"y":1.02},{"c":"R","l":3,"x":-0.1,"y":1.00},{"c":"R","l":3,"x":0,"y":0.98},{"c":"R","l":3,"x":0.1,"y":0.99},{"c":"R","l":3,"x":0.2,"y":0.97},{"c":"R","l":3,"x":0.3,"y":0.96},{"c":"R","l":3,"x":0.4,"y":0.95},{"c":"R","l":3,"x":0.5,"y":0.95},{"c":"R","l":3,"x":0.6,"y":0.95},{"c":"R","l":3,"x":0.7,"y":0.95},{"c":"R","l":3,"x":0.8,"y":0.96},{"c":"R","l":3,"x":0.9,"y":0.96},{"c":"R","l":3,"x":1,"y":0.95},{"c":"R","l":3,"x":1.1,"y":0.96},{"c":"R","l":3,"x":1.2,"y":0.97},{"c":"R","l":3,"x":1.3,"y":0.98},{"c":"R","l":3,"x":1.4,"y":0.99},{"c":"R","l":3,"x":1.5,"y":0.98},{"c":"R","l":3,"x":1.6,"y":0.97},{"c":"R","l":3,"x":1.7,"y":0.96},{"c":"R","l":3,"x":1.8,"y":0.97},
{"c":"S","l":4,"x":-0.8,"y":1.00},{"c":"S","l":4,"x":-0.7,"y":1.00},{"c":"S","l":4,"x":-0.6,"y":1.00},{"c":"S","l":4,"x":-0.5,"y":1.02},{"c":"S","l":4,"x":-0.4,"y":1.04},{"c":"S","l":4,"x":-0.3,"y":1.03},{"c":"S","l":4,"x":-0.2,"y":1.03},{"c":"S","l":4,"x":-0.1,"y":1.01},{"c":"S","l":4,"x":0,"y":1.00},{"c":"S","l":4,"x":0.1,"y":1.03},{"c":"S","l":4,"x":0.2,"y":1.06},{"c":"S","l":4,"x":0.3,"y":1.09},{"c":"S","l":4,"x":0.4,"y":1.11},{"c":"S","l":4,"x":0.5,"y":1.16},{"c":"S","l":4,"x":0.6,"y":1.18},{"c":"S","l":4,"x":0.7,"y":1.16},{"c":"S","l":4,"x":0.8,"y":1.10},{"c":"S","l":4,"x":0.9,"y":1.04},{"c":"S","l":4,"x":1,"y":1.03},{"c":"S","l":4,"x":1.1,"y":1.05},{"c":"S","l":4,"x":1.2,"y":1.07},{"c":"S","l":4,"x":1.3,"y":1.08},{"c":"S","l":4,"x":1.4,"y":1.10},{"c":"S","l":4,"x":1.5,"y":1.07},{"c":"S","l":4,"x":1.6,"y":1.09},{"c":"S","l":4,"x":1.7,"y":1.08},{"c":"S","l":4,"x":1.8,"y":1.02},
{"c":"S","l":5,"x":-0.8,"y":0.99},{"c":"S","l":5,"x":-0.7,"y":0.99},{"c":"S","l":5,"x":-0.6,"y":0.99},{"c":"S","l":5,"x":-0.5,"y":1.01},{"c":"S","l":5,"x":-0.4,"y":1.02},{"c":"S","l":5,"x":-0.3,"y":1.02},{"c":"S","l":5,"x":-0.2,"y":1.01},{"c":"S","l":5,"x":-0.1,"y":1.00},{"c":"S","l":5,"x":0,"y":0.99},{"c":"S","l":5,"x":0.1,"y":1.04},{"c":"S","l":5,"x":0.2,"y":1.09},{"c":"S","l":5,"x":0.3,"y":1.15},{"c":"S","l":5,"x":0.4,"y":1.11},{"c":"S","l":5,"x":0.5,"y":1.13},{"c":"S","l":5,"x":0.6,"y":1.16},{"c":"S","l":5,"x":0.7,"y":1.13},{"c":"S","l":5,"x":0.8,"y":1.06},{"c":"S","l":5,"x":0.9,"y":1.03},{"c":"S","l":5,"x":1,"y":1.02},{"c":"S","l":5,"x":1.1,"y":1.02},{"c":"S","l":5,"x":1.2,"y":1.02},{"c":"S","l":5,"x":1.3,"y":1.03},{"c":"S","l":5,"x":1.4,"y":1.04},{"c":"S","l":5,"x":1.5,"y":1.03},{"c":"S","l":5,"x":1.6,"y":1.04},{"c":"S","l":5,"x":1.7,"y":1.02},{"c":"S","l":5,"x":1.8,"y":1.02},
{"c":"S","l":6,"x":-0.8,"y":1.00},{"c":"S","l":6,"x":-0.7,"y":0.99},{"c":"S","l":6,"x":-0.6,"y":1.00},{"c":"S","l":6,"x":-0.5,"y":1.01},{"c":"S","l":6,"x":-0.4,"y":1.02},{"c":"S","l":6,"x":-0.3,"y":1.01},{"c":"S","l":6,"x":-0.2,"y":1.02},{"c":"S","l":6,"x":-0.1,"y":1.00},{"c":"S","l":6,"x":0,"y":0.99},{"c":"S","l":6,"x":0.1,"y":1.00},{"c":"S","l":6,"x":0.2,"y":1.02},{"c":"S","l":6,"x":0.3,"y":1.03},{"c":"S","l":6,"x":0.4,"y":1.06},{"c":"S","l":6,"x":0.5,"y":1.09},{"c":"S","l":6,"x":0.6,"y":1.10},{"c":"S","l":6,"x":0.7,"y":1.07},{"c":"S","l":6,"x":0.8,"y":1.01},{"c":"S","l":6,"x":0.9,"y":1.01},{"c":"S","l":6,"x":1,"y":1.02},{"c":"S","l":6,"x":1.1,"y":1.01},{"c":"S","l":6,"x":1.2,"y":1.01},{"c":"S","l":6,"x":1.3,"y":1.01},{"c":"S","l":6,"x":1.4,"y":1.02},{"c":"S","l":6,"x":1.5,"y":1.00},{"c":"S","l":6,"x":1.6,"y":1.00},{"c":"S","l":6,"x":1.7,"y":0.99},{"c":"S","l":6,"x":1.8,"y":1.01},
{"c":"I","l":7,"x":-0.8,"y":1.00},{"c":"I","l":7,"x":-0.7,"y":0.99},{"c":"I","l":7,"x":-0.6,"y":0.99},{"c":"I","l":7,"x":-0.5,"y":1.00},{"c":"I","l":7,"x":-0.4,"y":1.01},{"c":"I","l":7,"x":-0.3,"y":1.02},{"c":"I","l":7,"x":-0.2,"y":1.00},{"c":"I","l":7,"x":-0.1,"y":0.98},{"c":"I","l":7,"x":0,"y":0.98},{"c":"I","l":7,"x":0.1,"y":0.96},{"c":"I","l":7,"x":0.2,"y":0.94},{"c":"I","l":7,"x":0.3,"y":0.92},{"c":"I","l":7,"x":0.4,"y":0.90},{"c":"I","l":7,"x":0.5,"y":0.91},{"c":"I","l":7,"x":0.6,"y":0.93},{"c":"I","l":7,"x":0.7,"y":0.95},{"c":"I","l":7,"x":0.8,"y":0.94},{"c":"I","l":7,"x":0.9,"y":0.94},{"c":"I","l":7,"x":1,"y":0.93},{"c":"I","l":7,"x":1.1,"y":0.94},{"c":"I","l":7,"x":1.2,"y":0.95},{"c":"I","l":7,"x":1.3,"y":0.95},{"c":"I","l":7,"x":1.4,"y":0.96},{"c":"I","l":7,"x":1.5,"y":0.96},{"c":"I","l":7,"x":1.6,"y":0.95},{"c":"I","l":7,"x":1.7,"y":0.94},{"c":"I","l":7,"x":1.8,"y":0.96},
{"c":"I","l":8,"x":-0.8,"y":1.00},{"c":"I","l":8,"x":-0.7,"y":0.99},{"c":"I","l":8,"x":-0.6,"y":0.99},{"c":"I","l":8,"x":-0.5,"y":1.00},{"c":"I","l":8,"x":-0.4,"y":1.00},{"c":"I","l":8,"x":-0.3,"y":1.02},{"c":"I","l":8,"x":-0.2,"y":1.00},{"c":"I","l":8,"x":-0.1,"y":0.98},{"c":"I","l":8,"x":0,"y":0.99},{"c":"I","l":8,"x":0.1,"y":0.99},{"c":"I","l":8,"x":0.2,"y":0.98},{"c":"I","l":8,"x":0.3,"y":0.97},{"c":"I","l":8,"x":0.4,"y":0.97},{"c":"I","l":8,"x":0.5,"y":0.98},{"c":"I","l":8,"x":0.6,"y":0.97},{"c":"I","l":8,"x":0.7,"y":0.98},{"c":"I","l":8,"x":0.8,"y":0.98},{"c":"I","l":8,"x":0.9,"y":0.98},{"c":"I","l":8,"x":1,"y":0.99},{"c":"I","l":8,"x":1.1,"y":0.99},{"c":"I","l":8,"x":1.2,"y":1.00},{"c":"I","l":8,"x":1.3,"y":1.00},{"c":"I","l":8,"x":1.4,"y":1.01},{"c":"I","l":8,"x":1.5,"y":0.98},{"c":"I","l":8,"x":1.6,"y":0.98},{"c":"I","l":8,"x":1.7,"y":0.96},{"c":"I","l":8,"x":1.8,"y":0.97},
{"c":"I","l":9,"x":-0.8,"y":1.00},{"c":"I","l":9,"x":-0.7,"y":0.99},{"c":"I","l":9,"x":-0.6,"y":0.99},{"c":"I","l":9,"x":-0.5,"y":1.01},{"c":"I","l":9,"x":-0.4,"y":1.02},{"c":"I","l":9,"x":-0.3,"y":1.03},{"c":"I","l":9,"x":-0.2,"y":1.02},{"c":"I","l":9,"x":-0.1,"y":1.00},{"c":"I","l":9,"x":0,"y":0.99},{"c":"I","l":9,"x":0.1,"y":1.01},{"c":"I","l":9,"x":0.2,"y":1.03},{"c":"I","l":9,"x":0.3,"y":1.05},{"c":"I","l":9,"x":0.4,"y":1.07},{"c":"I","l":9,"x":0.5,"y":1.11},{"c":"I","l":9,"x":0.6,"y":1.12},{"c":"I","l":9,"x":0.7,"y":1.09},{"c":"I","l":9,"x":0.8,"y":1.03},{"c":"I","l":9,"x":0.9,"y":1.02},{"c":"I","l":9,"x":1,"y":1.01},{"c":"I","l":9,"x":1.1,"y":1.02},{"c":"I","l":9,"x":1.2,"y":1.02},{"c":"I","l":9,"x":1.3,"y":1.03},{"c":"I","l":9,"x":1.4,"y":1.03},{"c":"I","l":9,"x":1.5,"y":1.02},{"c":"I","l":9,"x":1.6,"y":1.03},{"c":"I","l":9,"x":1.7,"y":1.01},{"c":"I","l":9,"x":1.8,"y":1.00}
],
"sig":[
{"p":"bo","x":0.2,"x2":1.0,"y":1.186},{"p":"bo","x":1.3,"x2":1.7,"y":1.186},
{"p":"bn","x":0.2,"x2":1.0,"y":1.186},{"p":"bn","x":1.3,"x2":1.7,"y":1.186},
{"p":"go","x":0.4,"x2":0.8,"y":1.188},{"p":"gn","x":0.4,"x2":0.8,"y":1.188}
],
"dot":[
{"p":"bo","x":0.8,"y":1.204},{"p":"bo","x":1.5,"y":1.204},{"p":"bn","x":0.8,"y":1.204},{"p":"gn","x":0.6,"y":1.196}
],
"cap":[
{"col":0,"ln":1,"w":"b","t":"FIGURE 6 | The changes in the gamma band activity in local field"},
{"col":0,"ln":2,"w":"b","t":"potentials recorded from the implanted electrodes in the"},
{"col":0,"ln":3,"w":"b","t":"subthalamic nucleus when patients with Parkinson’s disease were"},
{"col":1,"ln":1,"w":"b","t":"assessed on and off levodopa medication during performance of"},
{"col":1,"ln":2,"w":"b","t":"the stop signal RT task."},
{"col":1,"ln":2,"w":"r","t":"* denotes significant differences between the"},
{"col":1,"ln":3,"w":"n","t":"different types of trial."}
]
},
"vconcat":[
{"spacing":30,
 "title":{"text":"Left STN Dorsal Contacts (2-3)","anchor":"middle","fontSize":15,"dx":127,"offset":15},
 "hconcat":[
 {"width":147,"height":10,"data":{"values":[]},"mark":"point","encoding":{}},
 {"width":373,"height":222,"title":{"text":"OFF","fontSize":16,"offset":5},
  "layer":[
   {"data":{"name":"bo"},"mark":{"type":"line","clip":true,"interpolate":"monotone"},
    "encoding":{
     "x":{"field":"x","type":"quantitative","title":"Time (s)","scale":{"domain":[-0.8,1.8],"nice":false,"zero":false},"axis":{"values":[-0.5,0,0.5,1,1.5],"labelExpr":"toString(datum.value)"}},
     "y":{"field":"y","type":"quantitative","title":"Relative power","scale":{"domain":[0.62,1.19],"nice":false,"zero":false},"axis":{"values":[0.7,0.8,0.9,1,1.1],"labelExpr":"toString(datum.value)","titleFontSize":9,"titlePadding":13}},
     "color":{"field":"c","type":"nominal","scale":{"domain":["R","S","I"],"range":["#000000","#111111","#909090"]},"legend":{"labelExpr":"datum.label == 'R' ? 'Go-Response' : datum.label == 'S' ? 'Go-Stop-Response' : 'Go-Stop-Inhibit'"}},
     "strokeWidth":{"field":"c","type":"nominal","scale":{"type":"ordinal","domain":["R","S","I"],"range":[3,1.7,1.5]},"legend":{"labelExpr":"datum.label == 'R' ? 'Go-Response' : datum.label == 'S' ? 'Go-Stop-Response' : 'Go-Stop-Inhibit'"}},
     "detail":{"field":"l"}}},
   {"data":{"name":"sig"},"transform":[{"filter":"datum.p=='bo'"}],"mark":{"type":"rule","color":"#a8a8a8","strokeWidth":3},
    "encoding":{"x":{"field":"x","type":"quantitative","title":"Time (s)"},"x2":{"field":"x2"},
     "y":{"field":"y","type":"quantitative","title":"Beta (12-25 Hz)","axis":{"orient":"left","labels":false,"ticks":false,"domain":false,"titleFont":"Liberation Sans","titleFontSize":20,"titlePadding":61}}}},
   {"data":{"name":"dot"},"transform":[{"filter":"datum.p=='bo'"}],"mark":{"type":"circle","color":"#000","size":12,"opacity":1},
    "encoding":{"x":{"field":"x","type":"quantitative","title":"Time (s)"},"y":{"field":"y","type":"quantitative","axis":null}}}
  ],
  "resolve":{"axis":{"y":"independent"}}},
 {"width":373,"height":222,"title":{"text":"ON","fontSize":16,"offset":5},
  "layer":[
   {"data":{"name":"bn"},"mark":{"type":"line","clip":true,"interpolate":"monotone"},
    "encoding":{
     "x":{"field":"x","type":"quantitative","title":"Time (s)","scale":{"domain":[-0.8,1.8],"nice":false,"zero":false},"axis":{"values":[-0.5,0,0.5,1,1.5],"labelExpr":"toString(datum.value)"}},
     "y":{"field":"y","type":"quantitative","title":null,"scale":{"domain":[0.62,1.19],"nice":false,"zero":false},"axis":{"values":[0.7,0.8,0.9,1,1.1],"labels":false}},
     "color":{"field":"c","type":"nominal","scale":{"domain":["R","S","I"],"range":["#000000","#111111","#909090"]},"legend":{"labelExpr":"datum.label == 'R' ? 'Go-Response' : datum.label == 'S' ? 'Go-Stop-Response' : 'Go-Stop-Inhibit'"}},
     "strokeWidth":{"field":"c","type":"nominal","scale":{"type":"ordinal","domain":["R","S","I"],"range":[3,1.7,1.5]},"legend":{"labelExpr":"datum.label == 'R' ? 'Go-Response' : datum.label == 'S' ? 'Go-Stop-Response' : 'Go-Stop-Inhibit'"}},
     "detail":{"field":"l"}}},
   {"data":{"name":"sig"},"transform":[{"filter":"datum.p=='bn'"}],"mark":{"type":"rule","color":"#a8a8a8","strokeWidth":3},
    "encoding":{"x":{"field":"x","type":"quantitative","title":"Time (s)"},"x2":{"field":"x2"},"y":{"field":"y","type":"quantitative","title":null}}},
   {"data":{"name":"dot"},"transform":[{"filter":"datum.p=='bn'"}],"mark":{"type":"circle","color":"#000","size":12,"opacity":1},
    "encoding":{"x":{"field":"x","type":"quantitative","title":"Time (s)"},"y":{"field":"y","type":"quantitative","title":null}}}
  ]}
]},
{"spacing":30,"hconcat":[
 {"width":147,"height":10,"data":{"values":[]},"mark":"point","encoding":{}},
 {"width":373,"height":222,
  "layer":[
   {"data":{"name":"go"},"mark":{"type":"line","clip":true,"interpolate":"monotone"},
    "encoding":{
     "x":{"field":"x","type":"quantitative","title":"Time (s)","scale":{"domain":[-0.8,1.8],"nice":false,"zero":false},"axis":{"values":[-0.5,0,0.5,1,1.5],"labelExpr":"toString(datum.value)"}},
     "y":{"field":"y","type":"quantitative","title":"Relative power","scale":{"domain":[0.91,1.19],"nice":false,"zero":false},"axis":{"values":[0.95,1,1.05,1.1,1.15],"labelExpr":"toString(datum.value)","titleFontSize":9,"titlePadding":8}},
     "color":{"field":"c","type":"nominal","scale":{"domain":["R","S","I"],"range":["#000000","#111111","#909090"]},"legend":{"labelExpr":"datum.label == 'R' ? 'Go-Response' : datum.label == 'S' ? 'Go-Stop-Response' : 'Go-Stop-Inhibit'"}},
     "strokeWidth":{"field":"c","type":"nominal","scale":{"type":"ordinal","domain":["R","S","I"],"range":[3,1.7,1.5]},"legend":{"labelExpr":"datum.label == 'R' ? 'Go-Response' : datum.label == 'S' ? 'Go-Stop-Response' : 'Go-Stop-Inhibit'"}},
     "detail":{"field":"l"}}},
   {"data":{"name":"sig"},"transform":[{"filter":"datum.p=='go'"}],"mark":{"type":"rule","color":"#a8a8a8","strokeWidth":3},
    "encoding":{"x":{"field":"x","type":"quantitative","title":"Time (s)"},"x2":{"field":"x2"},
     "y":{"field":"y","type":"quantitative","title":"Gamma (55-75 Hz)","axis":{"orient":"left","labels":false,"ticks":false,"domain":false,"titleFont":"Liberation Sans","titleFontSize":21,"titlePadding":61}}}}
  ],
  "resolve":{"axis":{"y":"independent"}}},
 {"width":373,"height":222,
  "layer":[
   {"data":{"name":"gn"},"mark":{"type":"line","clip":true,"interpolate":"monotone"},
    "encoding":{
     "x":{"field":"x","type":"quantitative","title":"Time (s)","scale":{"domain":[-0.8,1.8],"nice":false,"zero":false},"axis":{"values":[-0.5,0,0.5,1,1.5],"labelExpr":"toString(datum.value)"}},
     "y":{"field":"y","type":"quantitative","title":null,"scale":{"domain":[0.91,1.19],"nice":false,"zero":false},"axis":{"values":[0.95,1,1.05,1.1,1.15],"labels":false}},
     "color":{"field":"c","type":"nominal","scale":{"domain":["R","S","I"],"range":["#000000","#111111","#909090"]},"legend":{"labelExpr":"datum.label == 'R' ? 'Go-Response' : datum.label == 'S' ? 'Go-Stop-Response' : 'Go-Stop-Inhibit'"}},
     "strokeWidth":{"field":"c","type":"nominal","scale":{"type":"ordinal","domain":["R","S","I"],"range":[3,1.7,1.5]},"legend":{"labelExpr":"datum.label == 'R' ? 'Go-Response' : datum.label == 'S' ? 'Go-Stop-Response' : 'Go-Stop-Inhibit'"}},
     "detail":{"field":"l"}}},
   {"data":{"name":"sig"},"transform":[{"filter":"datum.p=='gn'"}],"mark":{"type":"rule","color":"#a8a8a8","strokeWidth":3},
    "encoding":{"x":{"field":"x","type":"quantitative","title":"Time (s)"},"x2":{"field":"x2"},"y":{"field":"y","type":"quantitative","title":null}}},
   {"data":{"name":"dot"},"transform":[{"filter":"datum.p=='gn'"}],"mark":{"type":"circle","color":"#000","size":12,"opacity":1},
    "encoding":{"x":{"field":"x","type":"quantitative","title":"Time (s)"},"y":{"field":"y","type":"quantitative","title":null}}}
  ]}
]},
{"width":1312,"height":84,"data":{"name":"cap"},
 "encoding":{
  "y":{"field":"ln","type":"quantitative","scale":{"domain":[-0.42,3.08],"reverse":true,"nice":false,"zero":false},"axis":null}
 },
 "layer":[
  {"transform":[{"filter":"datum.w=='b'"}],"mark":{"type":"text","align":"left","baseline":"middle","fontWeight":"bold","fontSize":18,"color":"#111"},
   "encoding":{"x":{"field":"col","type":"ordinal","bandPosition":0,"scale":{"type":"band","domain":[0,1],"paddingInner":0.027,"paddingOuter":0},"axis":null},"text":{"field":"t"}}},
  {"transform":[{"filter":"datum.w=='r'"}],"mark":{"type":"text","align":"right","baseline":"middle","fontWeight":"normal","fontSize":18,"color":"#555"},
   "encoding":{"x":{"field":"col","type":"ordinal","bandPosition":1,"scale":{"type":"band","domain":[0,1],"paddingInner":0.027,"paddingOuter":0},"axis":null},"text":{"field":"t"}}},
  {"transform":[{"filter":"datum.w=='n'"}],"mark":{"type":"text","align":"left","baseline":"middle","fontWeight":"normal","fontSize":18,"color":"#555"},
   "encoding":{"x":{"field":"col","type":"ordinal","bandPosition":0,"scale":{"type":"band","domain":[0,1],"paddingInner":0.027,"paddingOuter":0},"axis":null},"text":{"field":"t"}}}
 ]}
],
"config":{
 "view":{"stroke":null},
 "font":"Liberation Sans",
 "text":{"font":"Liberation Sans"},
 "title":{"font":"Liberation Sans","fontWeight":"bold","color":"#000"},
 "axis":{"grid":false,"domainColor":"#000","domainWidth":1.4,"tickColor":"#000","tickWidth":1.4,"tickSize":-4,"labelPadding":12,"labelFont":"Liberation Sans","labelFontSize":11.5,"labelFontWeight":"bold","labelColor":"#000","titleFont":"Liberation Sans","titleFontSize":10.5,"titleFontWeight":"bold","titleColor":"#000","titlePadding":6},
 "axisX":{"titlePadding":11},
 "legend":{"orient":"none","legendX":985,"legendY":-88,"title":null,"strokeColor":"#222","strokeWidth":1.3,"padding":4,"symbolOffset":8,"labelFont":"Liberation Sans","labelFontSize":12,"labelFontWeight":"bold","labelColor":"#000","symbolType":"stroke","symbolSize":400,"rowPadding":-7,"symbolStrokeColor":"#000"}
}
}
